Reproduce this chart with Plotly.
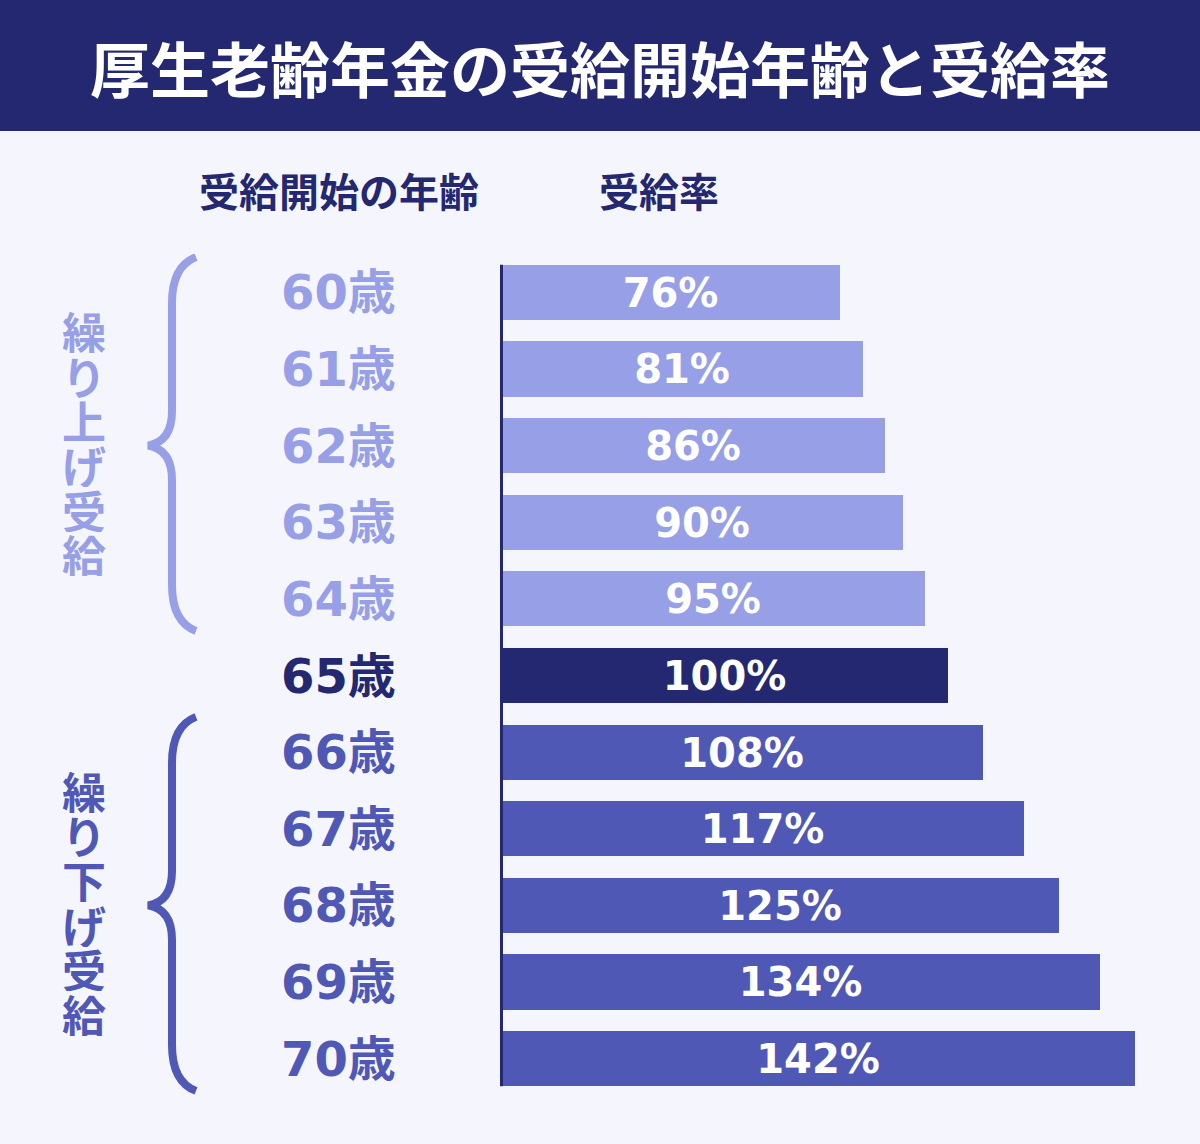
import plotly.graph_objects as go

# ---- data ----
ages = ["60歳", "61歳", "62歳", "63歳", "64歳", "65歳", "66歳", "67歳", "68歳", "69歳", "70歳"]
rates = [76, 81, 86, 90, 95, 100, 108, 117, 125, 134, 142]
groups = ["early"] * 5 + ["normal"] + ["late"] * 5
title_text = "厚生老齢年金の受給開始年齢と受給率"
header_age = "受給開始の年齢"
header_rate = "受給率"
early_label = "繰り上げ受給"
late_label = "繰り下げ受給"

# ---- styles ----
W, H = 1200, 1144
BG = "#f5f6fd"
NAVY = "#232870"
LIGHT = "#979fe6"
MED = "#5058b5"
color_map = {"early": LIGHT, "normal": NAVY, "late": MED}
FONT = "DejaVu Sans, Noto Sans CJK JP, sans-serif"
CJK = "Noto Sans CJK JP, sans-serif"

ML, MR, MT, MB = 501, 29, 254, 47
PW = W - ML - MR
PH = H - MT - MB
n = len(ages)
row_px = PH / n


def px_x(p):
    return (p - ML) / PW


def px_y(p):
    return (H - MB - p) / PH


ys = list(range(n))
colors = [color_map[g] for g in groups]

fig = go.Figure()
fig.add_trace(go.Bar(
    x=rates, y=ys, orientation="h",
    marker=dict(color=colors, line=dict(width=0)),
    width=0.72,
    text=[f"{r}%" for r in rates],
    textposition="inside", insidetextanchor="middle",
    textfont=dict(family=FONT, size=40, color="white", weight="bold"),
    hoverinfo="skip",
))

shapes = []
annotations = []

# title bar
shapes.append(dict(type="rect", xref="paper", yref="paper",
                   x0=px_x(0), x1=px_x(W), y0=px_y(131), y1=px_y(0),
                   fillcolor=NAVY, line=dict(width=0), layer="below"))
annotations.append(dict(text=title_text, xref="paper", yref="paper",
                        x=px_x(600), y=px_y(66), xanchor="center", yanchor="middle",
                        showarrow=False,
                        font=dict(family=CJK, size=60, color="white", weight="bold")))

# headers
annotations.append(dict(text=header_age, xref="paper", yref="paper",
                        x=px_x(339), y=px_y(190), xanchor="center", yanchor="middle",
                        showarrow=False,
                        font=dict(family=CJK, size=40, color=NAVY, weight="bold")))
annotations.append(dict(text=header_rate, xref="paper", yref="paper",
                        x=px_x(659), y=px_y(190), xanchor="center", yanchor="middle",
                        showarrow=False,
                        font=dict(family=CJK, size=40, color=NAVY, weight="bold")))

# age labels
for i, (a, g) in enumerate(zip(ages, groups)):
    annotations.append(dict(text=a, xref="paper", yref="y",
                            x=px_x(398), y=i, xanchor="right", yanchor="middle",
                            showarrow=False,
                            font=dict(family=FONT, size=48, color=color_map[g], weight="bold")))

# axis line
shapes.append(dict(type="line", xref="paper", yref="y", x0=px_x(501.5), x1=px_x(501.5),
                   y0=-0.5 + (1 - 0.72) / 2, y1=n - 0.5 - (1 - 0.72) / 2,
                   line=dict(color=NAVY, width=3)))


# braces + vertical labels
def brace(first, last, color, label):
    top = first - 0.46
    bot = last + 0.42
    mid = (first + last) / 2
    xe, xv, xt = px_x(196), px_x(172), px_x(148)
    path = (f"M {xe},{top} Q {xv},{top + 0.12} {xv},{top + 0.6} "
            f"L {xv},{mid - 0.45} Q {xv},{mid - 0.05} {xt},{mid} "
            f"Q {xv},{mid + 0.05} {xv},{mid + 0.45} "
            f"L {xv},{bot - 0.6} Q {xv},{bot - 0.12} {xe},{bot}")
    shapes.append(dict(type="path", xref="paper", yref="y", path=path,
                       line=dict(color=color, width=8)))
    step = 44.7 / row_px
    cmid = mid - 3 / row_px
    for k, ch in enumerate(label):
        annotations.append(dict(text=ch, xref="paper", yref="y",
                                x=px_x(84), y=cmid + (k - (len(label) - 1) / 2) * step,
                                xanchor="center", yanchor="middle", showarrow=False,
                                height=44, valign="middle",
                                font=dict(family=CJK, size=44, color=color, weight="bold")))


brace(0, 4, LIGHT, early_label)
brace(6, 10, MED, late_label)

fig.update_layout(
    width=W, height=H,
    margin=dict(l=ML, r=MR, t=MT, b=MB, pad=0),
    paper_bgcolor=BG, plot_bgcolor=BG,
    showlegend=False,
    xaxis=dict(range=[0, 150], visible=False, fixedrange=True),
    yaxis=dict(range=[n - 0.5, -0.5], visible=False, fixedrange=True),
    shapes=shapes, annotations=annotations,
    uniformtext=dict(minsize=40, mode="show"),
    bargap=0,
)

fig.write_html("out.html", config={"displayModeBar": False})
